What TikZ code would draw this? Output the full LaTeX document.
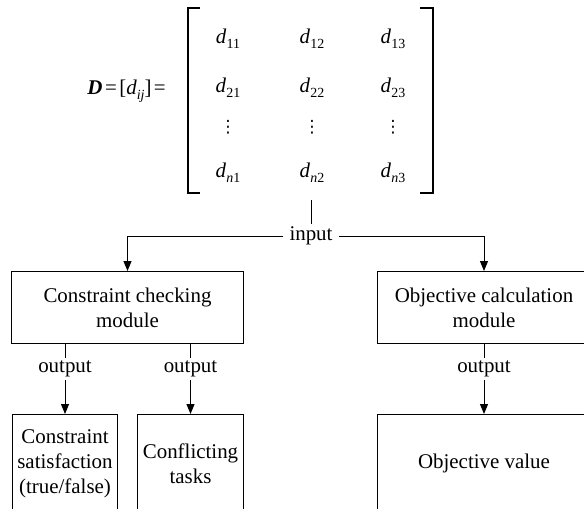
\documentclass[tikz,border=0pt]{standalone}
\usepackage{fontspec}
\setmainfont{Liberation Serif}
\newfontfamily\symfont{DejaVu Sans}
\usetikzlibrary{arrows.meta}

% subscript set smaller and lowered
\newcommand\sbx[1]{\raisebox{-4.5bp}{\fontsize{14}{14}\selectfont #1}}
% matrix entry d_{#1}
\newcommand\dent[1]{\textit{d}\kern0.3bp\sbx{#1}}
% vertical ellipsis
\newcommand\vdotsx{{\symfont\fontsize{17}{17}\selectfont ⋮}}
% tight space in the equation
\newcommand\tsp{\hspace{2.5bp}}

\begin{document}
\begin{tikzpicture}[x=1bp,y=-1bp,
  every node/.style={font=\fontsize{21}{25}\selectfont},
  box/.style={draw, line width=1bp, inner sep=0pt, align=center, anchor=north west},
  lbl/.style={inner xsep=2bp, inner ysep=3bp},
  ent/.style={anchor=base, inner sep=0pt},
  conn/.style={line width=1bp},
  arr/.style={conn, -{Triangle[length=10bp,width=8bp]}}]
\useasboundingbox (0,0) rectangle (584,509);
\clip (0,0) rectangle (584,509);

% matrix D
\node[anchor=base east, inner sep=0pt] (eq) at (166,95)
  {\textbf{\textit{D}}\tsp=\tsp[\textit{d}\sbx{\textit{ij}}]\tsp=};
\node[ent] (m11) at (228,44) {\dent{11}};
\node[ent] (m12) at (312,44) {\dent{12}};
\node[ent] (m13) at (393,44) {\dent{13}};
\node[ent] (m21) at (228,93) {\dent{21}};
\node[ent] (m22) at (312,93) {\dent{22}};
\node[ent] (m23) at (393,93) {\dent{23}};
\node[ent] (v1) at (228,133) {\vdotsx};
\node[ent] (v2) at (312,133) {\vdotsx};
\node[ent] (v3) at (393,133) {\vdotsx};
\node[ent] (mn1) at (228,178) {\dent{\textit{n}1}};
\node[ent] (mn2) at (312,178) {\dent{\textit{n}2}};
\node[ent] (mn3) at (393,178) {\dent{\textit{n}3}};
\draw[line width=1.2bp] (200,8) -- (188,8) -- (188,193) -- (200,193);
\draw[line width=1.2bp] (420,8) -- (433,8) -- (433,193) -- (420,193);
\coordinate (mb) at (311,200);

% modules
\node[box, minimum width=232bp, minimum height=72bp] (cc) at (11,271)
  {Constraint checking\\module};
\node[box, minimum width=213bp, minimum height=72bp] (oc) at (377,271)
  {Objective calculation\\module};

% results
\node[box, minimum width=105bp, minimum height=98bp] (b1) at (12,414)
  {Constraint\\satisfaction\\(true/false)};
\node[box, minimum width=106bp, minimum height=98bp] (b2) at (137,414)
  {Conflicting\\tasks};
\node[box, minimum width=213bp, minimum height=98bp] (b3) at (377,414)
  {Objective value};

% input
\node[lbl, inner xsep=6bp] (in) at (311,236) {input};
\draw[conn] (mb) -- (in.north);
\draw[arr] (in.west) -| (cc.north);
\draw[arr] (in.east) -| (oc.north);

% outputs
\node[lbl] (o1) at (b1.north |- 0,369) {output};
\node[lbl] (o2) at (b2.north |- 0,369) {output};
\node[lbl] (o3) at (b3.north |- 0,369) {output};
\draw[conn] (cc.south -| o1) -- (o1.north);
\draw[arr] (o1.south) -- (b1.north);
\draw[conn] (cc.south -| o2) -- (o2.north);
\draw[arr] (o2.south) -- (b2.north);
\draw[conn] (oc.south -| o3) -- (o3.north);
\draw[arr] (o3.south) -- (b3.north);
\end{tikzpicture}
\end{document}
